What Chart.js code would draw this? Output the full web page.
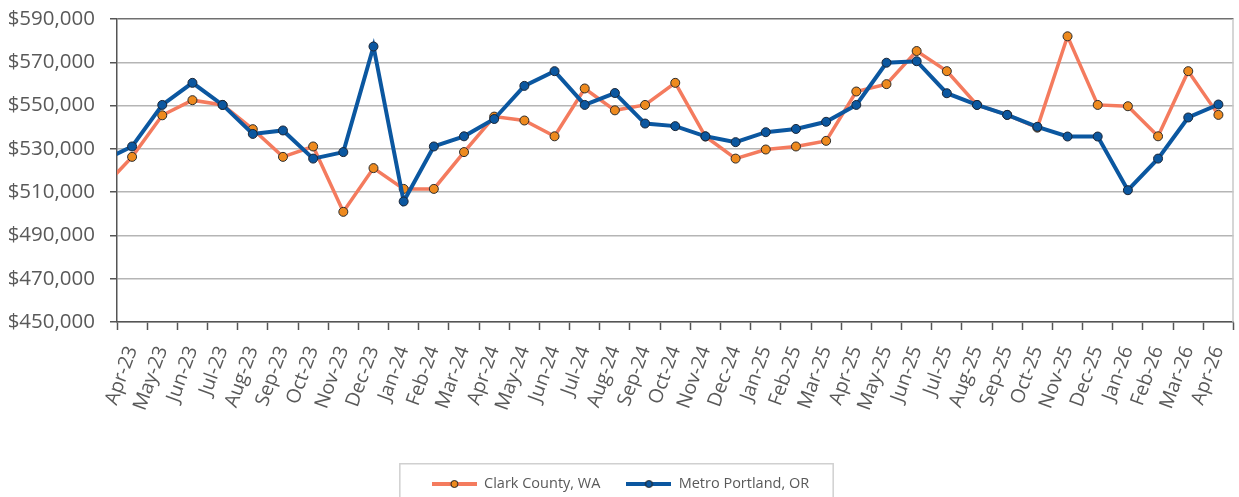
<!DOCTYPE html>
<html>
<head>
<meta charset="utf-8">
<script src="https://cdn.jsdelivr.net/npm/chart.js@4.4.1/dist/chart.umd.min.js"></script>
<style>
  html, body { margin:0; padding:0; background:#fff; }
  #wrap { width:1239px; height:497px; position:relative; }
</style>
</head>
<body>
<div id="wrap"><canvas id="c"></canvas></div>
<script>
// months (Mar-23 sits just off the left edge, only its line segment shows)
const months = ['Mar-23','Apr-23','May-23','Jun-23','Jul-23','Aug-23','Sep-23','Oct-23','Nov-23','Dec-23',
  'Jan-24','Feb-24','Mar-24','Apr-24','May-24','Jun-24','Jul-24','Aug-24','Sep-24','Oct-24','Nov-24','Dec-24',
  'Jan-25','Feb-25','Mar-25','Apr-25','May-25','Jun-25','Jul-25','Aug-25','Sep-25','Oct-25','Nov-25','Dec-25',
  'Jan-26','Feb-26','Mar-26','Apr-26'];

const clarkCounty = [511500, 526300, 545500, 552500, 550300, 539100, 526300, 531100, 500900, 521100,
  511500, 511500, 528500, 544900, 543100, 535800, 557900, 547800, 550300, 560500, 535700, 525500,
  529700, 531100, 533700, 556500, 559900, 575200, 565900, 550300, 545700, 539800, 582000, 550300,
  549700, 535800, 565900, 545700];

const metroPortland = [524300, 531100, 550300, 560500, 550300, 536900, 538500, 525500, 528500, 577300,
  505700, 531100, 535800, 543800, 559100, 565900, 550300, 555800, 541700, 540500, 535800, 533100,
  537700, 539200, 542500, 550300, 569800, 570500, 555700, 550300, 545700, 540200, 535700, 535700,
  510900, 525500, 544500, 550500];

const yMin = 450000, yMax = 590000, yStep = 20000;

const FONT = '"Open Sans", "Noto Sans", sans-serif';
const TXT = '#595959';

// little line+dot swatch for the legend
function legendSwatch(line, dot){
  const cv = document.createElement('canvas');
  cv.width = 45; cv.height = 12;
  const g = cv.getContext('2d');
  g.strokeStyle = line; g.lineWidth = 4;
  g.beginPath(); g.moveTo(0,6); g.lineTo(45,6); g.stroke();
  g.fillStyle = dot; g.strokeStyle = '#222'; g.lineWidth = 1;
  g.beginPath(); g.arc(22.5,6,3.5,0,Math.PI*2); g.fill(); g.stroke();
  return cv;
}
const swatches = [legendSwatch('#F47B5E','#EE8A1E'), legendSwatch('#0B57A0','#0B57A0')];

// plot frame (right edge) and the box around the legend
const framePlugin = {
  id:'frame',
  beforeDatasetsDraw(chart){
    const {ctx, chartArea:a} = chart;
    ctx.save();
    ctx.strokeStyle = '#c8c8c8'; ctx.lineWidth = 1.5;
    ctx.beginPath(); ctx.moveTo(a.right-0.5, a.top); ctx.lineTo(a.right-0.5, a.bottom); ctx.stroke();
    ctx.restore();
  },
  afterDraw(chart){
    const lg = chart.legend;
    if (!lg || !lg.legendHitBoxes.length) return;
    const boxes = lg.legendHitBoxes;
    const last = boxes[boxes.length-1];
    const l = boxes[0].left - 32, r = last.left + last.width + 24;
    const ctx = chart.ctx;
    ctx.save();
    ctx.strokeStyle = '#d0d0d0'; ctx.lineWidth = 1.5;
    ctx.strokeRect(l, boxes[0].top - 13, r - l, 80);
    ctx.restore();
  }
};

new Chart(document.getElementById('c'), {
  type:'line',
  data:{
    labels: months,
    datasets:[
      { label:'Clark County, WA', data: clarkCounty, order:1,
        borderColor:'#F47B5E', borderWidth:3.5, backgroundColor:'#EE8A1E',
        pointBackgroundColor:'#EE8A1E', pointBorderColor:'#2b2b2b', pointBorderWidth:1,
        pointRadius:4.5, tension:0 },
      { label:'Metro Portland, OR', data: metroPortland, order:0,
        borderColor:'#0B57A0', borderWidth:4, backgroundColor:'#0B57A0',
        pointBackgroundColor:'#0B57A0', pointBorderColor:'#1b2535', pointBorderWidth:1,
        pointRadius:4.5, tension:0 }
    ]
  },
  options:{
    responsive:true, maintainAspectRatio:false, animation:false,
    layout:{ padding:{ top:19, right:-2, left:0, bottom:-4.25 } },
    plugins:{
      tooltip:{ enabled:false },
      legend:{
        position:'bottom',
        labels:{
          usePointStyle:true, pointStyleWidth:45, padding:26,
          color:TXT, font:{ family:FONT, size:14.5 },
          sort:(a,b)=>a.datasetIndex-b.datasetIndex,
          generateLabels(chart){
            const items = Chart.defaults.plugins.legend.labels.generateLabels(chart);
            items.forEach(it => { it.pointStyle = swatches[it.datasetIndex]; });
            return items;
          }
        }
      }
    },
    scales:{
      x:{
        min:'Apr-23', offset:true,
        grid:{ offset:true, drawOnChartArea:false, drawTicks:true, tickLength:8, tickColor:'#555', tickWidth:1.5 },
        border:{ color:'#555', width:1.5 },
        ticks:{ autoSkip:false, minRotation:70, maxRotation:70, padding:13, color:TXT, font:{ family:FONT, size:19.5 } },
        afterFit(s){ s.height = 128.75; s.paddingLeft = 0; s.paddingRight = 0; }
      },
      y:{
        min:yMin, max:yMax,
        grid:{ color: c => c.tick && c.tick.value === yMax ? '#707070' : '#b5b5b5', lineWidth:1.5,
               tickLength:7, tickColor:'#555' },
        border:{ color:'#555', width:1.5 },
        ticks:{ stepSize:yStep, padding:15, color:TXT, font:{ family:FONT, size:20.5 },
                callback: v => '$' + v.toLocaleString('en-US') },
        afterFit(s){ s.width = 117; s.paddingTop = 0; s.paddingBottom = 0; }
      }
    }
  },
  plugins:[framePlugin]
});
</script>
</body>
</html>
